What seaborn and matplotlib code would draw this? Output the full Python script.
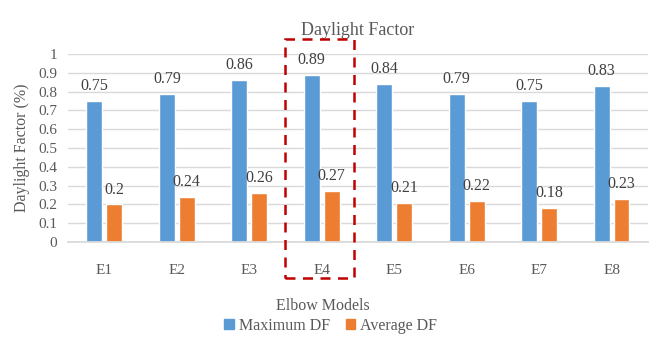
import matplotlib
matplotlib.use("Agg")
import matplotlib.pyplot as plt
import matplotlib.patches as mpatches
import seaborn as sns
import pandas as pd

models = ["E1", "E2", "E3", "E4", "E5", "E6", "E7", "E8"]
max_df = [0.75, 0.79, 0.86, 0.89, 0.84, 0.79, 0.75, 0.83]
avg_df = [0.20, 0.24, 0.26, 0.27, 0.21, 0.22, 0.18, 0.23]
series = ["Maximum DF", "Average DF"]
yticks = [0, 0.1, 0.2, 0.3, 0.4, 0.5, 0.6, 0.7, 0.8, 0.9, 1]
highlight = "E4"

df = pd.DataFrame({
    "Model": models * 2,
    "Series": [series[0]] * len(models) + [series[1]] * len(models),
    "Value": max_df + avg_df,
})

sns.set_theme(style="white")
plt.rcParams["font.family"] = ["Liberation Serif", "DejaVu Serif"]
text_color = "#595959"
grid_color = "#D9D9D9"
palette = {series[0]: "#5B9BD5", series[1]: "#ED7D31"}

fig = plt.figure(figsize=(6.55, 3.4), dpi=100)
ax = fig.add_axes([0.104, 0.288, 0.885, 0.553])

sns.barplot(data=df, x="Model", y="Value", hue="Series", order=models,
            hue_order=series, palette=palette, width=0.55, gap=0.2,
            saturation=1, legend=False, ax=ax)

for container in ax.containers:
    ax.bar_label(container, fmt="%g", padding=5, fontsize=11.5, color="#404040")

ax.set_ylim(0, 1)
ax.set_xlim(-0.5, len(models) - 0.5)
ax.set_yticks(yticks)
ax.set_yticklabels([f"{t:g}" for t in yticks])
ax.yaxis.grid(True, color=grid_color, linewidth=1)
ax.set_axisbelow(True)
for side in ["top", "right", "left"]:
    ax.spines[side].set_visible(False)
ax.spines["bottom"].set_color(grid_color)
ax.tick_params(axis="both", length=0, labelsize=11, colors=text_color, pad=8)
ax.tick_params(axis="x", pad=16)

ax.set_title("Daylight Factor", fontsize=13, color=text_color, pad=14)
ax.set_ylabel("Daylight Factor (%)", fontsize=11.5, color=text_color, labelpad=6)
ax.set_xlabel("Elbow Models", fontsize=11.5, color=text_color)
ax.xaxis.set_label_coords(0.44, -0.30)

# dashed frame around the highlighted model
i = models.index(highlight)
frame = mpatches.Rectangle((i - 0.5, -0.19), 0.94, 1.27, fill=False,
                           edgecolor="#C00000", linestyle=(0, (4, 3)),
                           linewidth=1.8, clip_on=False, zorder=5)
ax.add_patch(frame)

handles = [mpatches.Patch(color=palette[s], label=s) for s in series]
fig.legend(handles=handles, loc="center", bbox_to_anchor=(0.505, 0.042), ncol=2,
           frameon=False, fontsize=11.5, handlelength=0.6, handleheight=0.6,
           handletextpad=0.3, columnspacing=1.0, labelcolor=text_color)

fig.savefig("out.png", dpi=100)
